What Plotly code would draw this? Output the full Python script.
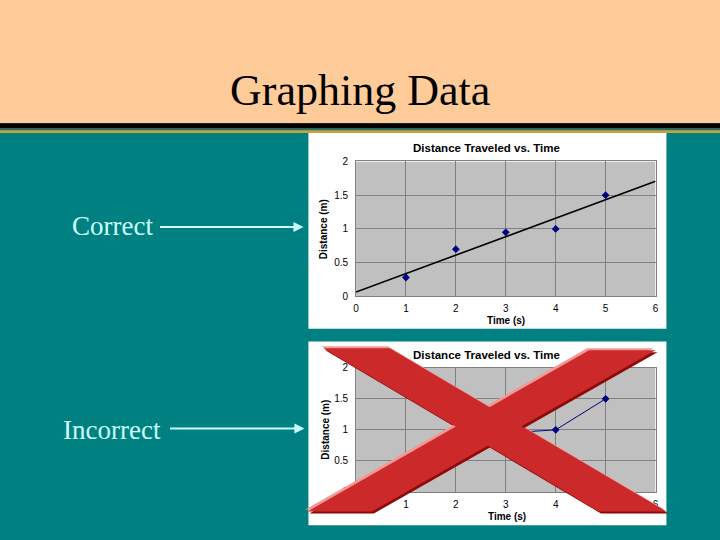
import numpy as np
import plotly.graph_objects as go

# ---- data ----
time_s = [1, 2, 3, 4, 5]
distance_m = [0.28, 0.70, 0.95, 1.00, 1.50]
x_ticks = [0, 1, 2, 3, 4, 5, 6]
y_ticks = [0, 0.5, 1, 1.5, 2]
chart_title = "Distance Traveled vs. Time"
slide_title = "Graphing Data"

W, H = 720, 540


def px(x):
    return x / W


def py(y):
    return 1 - y / H


# linear trendline (as Excel's trendline)
slope, intercept = np.polyfit(time_s, distance_m, 1)
trend_x = [0, 6]
trend_y = [intercept + slope * v for v in trend_x]

NAVY = "#000080"
TEAL = "#008080"
PALE = "#CCFFFF"
FONT_SANS = "Arial, Liberation Sans, sans-serif"
FONT_SERIF = "Times New Roman, Liberation Serif, serif"

fig = go.Figure()

# correct chart: scatter + trendline
fig.add_trace(go.Scatter(x=trend_x, y=trend_y, mode="lines",
                         line=dict(color="black", width=1.6),
                         xaxis="x", yaxis="y", showlegend=False, hoverinfo="skip"))
fig.add_trace(go.Scatter(x=time_s, y=distance_m, mode="markers",
                         marker=dict(symbol="diamond", size=6, color=NAVY),
                         xaxis="x", yaxis="y", showlegend=False))
# incorrect chart: connected line
fig.add_trace(go.Scatter(x=time_s, y=distance_m, mode="lines+markers",
                         line=dict(color=NAVY, width=1),
                         marker=dict(symbol="diamond", size=6, color=NAVY),
                         xaxis="x2", yaxis="y2", showlegend=False))

xdom = [px(356), px(658)]
ax_common = dict(
    range=[0, 6], tickvals=x_ticks, ticktext=[str(v) for v in x_ticks],
    showgrid=True, gridcolor="#808080", gridwidth=1, zeroline=False,
    showline=True, linecolor="#808080", linewidth=1, mirror=True,
    tickfont=dict(family=FONT_SANS, size=10, color="black"),
    ticks="", ticklabelstandoff=3, fixedrange=True,
)
ay_common = dict(
    range=[0, 2], tickvals=y_ticks, ticktext=[f"{v:g}" for v in y_ticks],
    showgrid=True, gridcolor="#808080", gridwidth=1, zeroline=False,
    showline=True, linecolor="#808080", linewidth=1, mirror=True,
    tickfont=dict(family=FONT_SANS, size=10, color="black"),
    ticks="", ticklabelstandoff=5, fixedrange=True,
)

shapes = []
# header band (extends past the paper edges so no frame shows)
shapes.append(dict(type="rect", xref="paper", yref="paper", x0=-0.05, x1=1.05, y0=py(120), y1=1.05,
                   fillcolor="#FFCC99", line=dict(width=0), layer="below"))
shapes.append(dict(type="rect", xref="paper", yref="paper", x0=-0.05, x1=1.05, y0=py(125), y1=py(120),
                   fillcolor="#000000", line=dict(width=0), layer="below"))
shapes.append(dict(type="rect", xref="paper", yref="paper", x0=-0.05, x1=1.05, y0=py(127), y1=py(125),
                   fillcolor="#2E6B5E", line=dict(width=0), layer="below"))
shapes.append(dict(type="rect", xref="paper", yref="paper", x0=-0.05, x1=1.05, y0=py(130), y1=py(127),
                   fillcolor="#C9A040", line=dict(width=0), layer="below"))
# white chart boxes
shapes.append(dict(type="rect", xref="paper", yref="paper", x0=px(308), x1=px(669), y0=py(330), y1=py(130),
                   fillcolor="white", line=dict(width=0), layer="below"))
shapes.append(dict(type="rect", xref="paper", yref="paper", x0=px(308), x1=px(669), y0=py(531), y1=py(343),
                   fillcolor="white", line=dict(width=0), layer="below"))
# gray plot areas
for xr, yr in (("x", "y"), ("x2", "y2")):
    shapes.append(dict(type="rect", xref=xr, yref=yr, x0=0, x1=6, y0=0, y1=2,
                       fillcolor="#C0C0C0", line=dict(width=0), layer="below"))


def band_path(pts, dx=0, dy=0):
    s = ""
    for i, (x, y) in enumerate(pts):
        s += ("M " if i == 0 else " L ") + f"{px(x + dx):.5f},{py(y + dy):.5f}"
    return s + " Z"


band1 = [(323, 350), (390, 350), (669, 517), (601, 517)]
band2 = [(307, 517), (372, 517), (658, 352), (591, 352)]
for b in (band1, band2):
    shapes.append(dict(type="path", xref="paper", yref="paper", path=band_path(b, -2, -2),
                       fillcolor="#F09898", line=dict(width=0), layer="above"))
    shapes.append(dict(type="path", xref="paper", yref="paper", path=band_path(b, 2, 2),
                       fillcolor="#8E0A0A", line=dict(width=0), layer="above"))
for b in (band1, band2):
    shapes.append(dict(type="path", xref="paper", yref="paper", path=band_path(b),
                       fillcolor="#CC2A2A", line=dict(width=0), layer="above"))

annotations = []


def text(x, y, s, size, family=FONT_SANS, color="black", bold=False, xanchor="center", angle=0):
    annotations.append(dict(x=px(x), y=py(y), xref="paper", yref="paper",
                            text=f"<b>{s}</b>" if bold else s, showarrow=False,
                            xanchor=xanchor, yanchor="middle", textangle=angle,
                            font=dict(family=family, size=size, color=color)))


text(360, 86, slide_title, 44, family=FONT_SERIF)
text(153, 225, "Correct", 27, family=FONT_SERIF, color=PALE, xanchor="right")
text(161, 434, "Incorrect", 27, family=FONT_SERIF, color=PALE, xanchor="right")

# chart 1 texts
text(488, 145, chart_title, 11.5, bold=True)
text(507, 322, "Time (s)", 10, bold=True)
text(324, 228, "Distance (m)", 10, bold=True, angle=-90)
# chart 2 texts
text(488, 357, chart_title, 11.5, bold=True)
text(508, 522, "Time (s)", 10, bold=True)
text(325, 433, "Distance (m)", 10, bold=True, angle=-90)

# arrows
for (xh, yh, length) in ((303, 226, 145), (304, 432, 136)):
    annotations.append(dict(x=px(xh), y=py(yh), xref="paper", yref="paper", text="",
                            showarrow=True, ax=-length, ay=0, arrowhead=2, arrowsize=1,
                            arrowwidth=2, arrowcolor=PALE, standoff=0, startstandoff=0))

fig.update_layout(
    width=W, height=H,
    margin=dict(l=0, r=0, t=0, b=0),
    paper_bgcolor=TEAL,
    plot_bgcolor="rgba(0,0,0,0)",
    xaxis=dict(domain=xdom, anchor="y", **ax_common),
    yaxis=dict(domain=[py(297), py(159)], anchor="x", **ay_common),
    xaxis2=dict(domain=xdom, anchor="y2", **ax_common),
    yaxis2=dict(domain=[py(497), py(370)], anchor="x2", **ay_common),
    shapes=shapes,
    annotations=annotations,
    showlegend=False,
)

fig.write_html("out.html", config={"displayModeBar": False},
               post_script="document.body.style.margin='0';document.body.style.overflow='hidden';"
                           "document.body.style.background='#008080';")
